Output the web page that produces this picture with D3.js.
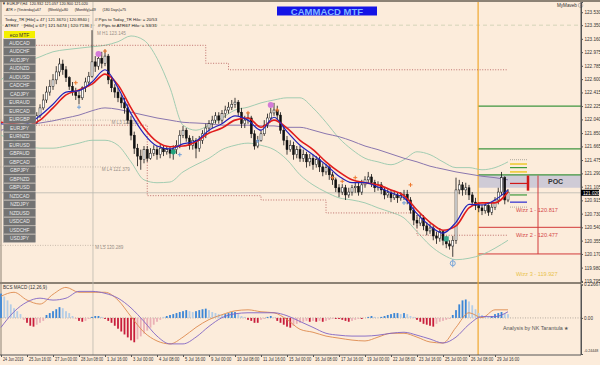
<!DOCTYPE html>
<html>
<head>
<meta charset="utf-8">
<script src="https://cdn.jsdelivr.net/npm/d3@7"></script>
<style>
  body { margin: 0; background: #fcecdb; }
  svg { display: block; font-family: "Liberation Sans", Arial, sans-serif; }
</style>
</head>
<body>
<svg id="chart" width="600" height="365"></svg>
<script>
// ---- candles (H4 EURJPY), bar numbers start at firstBar ----
var firstBar = 10;
var open = [
  121.96,122.00,122.09,122.20,122.31,122.42,122.50,122.59,122.70,122.81,
  122.73,122.62,122.50,122.42,122.37,122.34,122.48,122.56,122.64,122.84,
  122.78,122.89,122.82,122.92,122.59,122.48,122.42,122.34,122.27,122.20,
  122.03,121.82,121.64,121.53,121.48,121.62,121.50,121.57,121.62,121.55,
  121.64,121.59,121.62,121.57,121.62,121.68,121.82,121.89,121.78,121.68,
  121.75,121.64,121.75,121.84,121.92,121.98,122.03,122.09,122.03,122.12,
  122.17,122.21,122.25,122.28,122.14,121.98,122.03,122.06,121.84,121.67,
  121.75,121.84,121.96,122.06,122.13,122.17,122.10,121.89,121.75,121.62,
  121.68,121.55,121.62,121.50,121.55,121.45,121.50,121.41,121.48,121.38,
  121.31,121.37,121.27,121.20,121.09,121.03,121.09,120.99,121.03,121.09,
  121.11,121.03,121.13,121.20,121.24,121.16,121.09,121.13,121.06,120.99,
  121.02,120.95,120.99,120.95,120.98,121.00,120.92,120.78,120.64,120.60,
  120.67,120.56,120.49,120.53,120.42,120.39,120.48,120.36,120.31,120.28,
  120.36,121.06,121.13,121.06,121.09,120.99,120.89,120.84,120.81,120.77,
  120.84,120.75,120.82,120.92,121.03,121.23,120.92
];
var high = [
  122.06,122.14,122.25,122.39,122.50,122.59,122.67,122.78,122.89,122.87,
  122.78,122.64,122.56,122.48,122.45,122.50,122.62,122.70,123.28,122.92,
  122.95,122.98,123.01,122.95,122.64,122.53,122.48,122.39,122.34,122.25,
  122.09,121.87,121.70,121.62,121.67,121.67,121.64,121.68,121.67,121.70,
  121.68,121.67,121.66,121.68,121.75,121.89,121.95,121.92,121.82,121.81,
  121.78,121.81,121.89,121.98,122.03,122.09,122.14,122.14,122.17,122.23,
  122.28,122.31,122.34,122.31,122.20,122.09,122.14,122.09,121.89,121.81,
  121.89,122.03,122.12,122.20,122.27,122.23,122.14,121.95,121.81,121.75,
  121.73,121.67,121.67,121.62,121.59,121.56,121.55,121.53,121.52,121.43,
  121.42,121.41,121.31,121.23,121.14,121.14,121.13,121.09,121.13,121.17,
  121.16,121.20,121.25,121.31,121.28,121.20,121.18,121.17,121.10,121.07,
  121.06,121.05,121.03,121.03,121.06,121.06,120.96,120.82,120.71,120.73,
  120.71,120.61,120.59,120.57,120.48,120.53,120.50,120.42,120.36,120.42,
  121.23,121.20,121.17,121.16,121.13,121.03,120.95,120.89,120.86,120.88,
  120.86,120.88,120.96,121.09,121.31,121.25,121.07
];
var low = [
  121.92,121.98,122.06,122.17,122.27,122.37,122.45,122.53,122.64,122.66,
  122.56,122.45,122.37,122.31,122.25,122.31,122.42,122.50,122.62,122.70,
  122.73,122.75,122.78,122.53,122.42,122.34,122.28,122.20,122.12,121.98,
  121.75,121.56,121.39,121.34,121.43,121.45,121.48,121.53,121.48,121.50,
  121.53,121.55,121.50,121.48,121.56,121.64,121.78,121.73,121.62,121.62,
  121.50,121.59,121.70,121.78,121.87,121.92,121.98,121.98,121.98,122.06,
  122.12,122.17,122.20,122.09,121.92,121.92,121.98,121.78,121.62,121.64,
  121.73,121.81,121.92,122.03,122.09,122.03,121.84,121.68,121.55,121.59,
  121.48,121.50,121.45,121.45,121.37,121.39,121.34,121.37,121.31,121.25,
  121.27,121.20,121.13,121.03,120.96,120.99,120.92,120.95,120.98,121.02,
  120.98,120.99,121.09,121.14,121.10,121.03,121.05,121.00,120.93,120.95,
  120.89,120.92,120.88,120.91,120.92,120.86,120.73,120.57,120.53,120.56,
  120.50,120.43,120.45,120.36,120.31,120.34,120.29,120.25,120.23,120.13,
  120.31,121.00,120.98,120.99,120.92,120.84,120.78,120.75,120.71,120.73,
  120.70,120.71,120.78,120.86,120.99,120.86,120.89
];
var close = [
  122.00,122.09,122.20,122.31,122.42,122.50,122.59,122.70,122.81,122.73,
  122.62,122.50,122.42,122.37,122.34,122.48,122.56,122.64,122.84,122.78,
  122.89,122.82,122.92,122.59,122.48,122.42,122.34,122.27,122.20,122.03,
  121.82,121.64,121.53,121.48,121.62,121.50,121.57,121.62,121.55,121.64,
  121.59,121.62,121.57,121.62,121.68,121.82,121.89,121.78,121.68,121.75,
  121.64,121.75,121.84,121.92,121.98,122.03,122.09,122.03,122.12,122.17,
  122.21,122.25,122.28,122.14,121.98,122.03,122.06,121.84,121.67,121.75,
  121.84,121.96,122.06,122.13,122.17,122.10,121.89,121.75,121.62,121.68,
  121.55,121.62,121.50,121.55,121.45,121.50,121.41,121.48,121.38,121.31,
  121.37,121.27,121.20,121.09,121.03,121.09,120.99,121.03,121.09,121.11,
  121.03,121.13,121.20,121.24,121.16,121.09,121.13,121.06,120.99,121.02,
  120.95,120.99,120.95,120.98,121.00,120.92,120.78,120.64,120.60,120.67,
  120.56,120.49,120.53,120.42,120.39,120.48,120.36,120.31,120.28,120.36,
  121.06,121.13,121.06,121.09,120.99,120.89,120.84,120.81,120.77,120.84,
  120.75,120.82,120.92,121.03,121.23,120.92,121.03
];

// ---- indicator lines, read every 4th bar ----
var lineBars = [0,4,8,12,16,20,24,28,32,36,40,44,48,52,56,60,64,68,72,76,
                80,84,88,92,96,100,104,108,112,116,120,124,128,132,136,140,144,148,152,156];
var emaRed = [122.00,121.98,121.96,122.03,122.20,122.38,122.45,122.53,122.67,122.52,
              122.20,121.92,121.73,121.66,121.67,121.73,121.85,121.92,122.03,122.06,
              121.93,122.03,121.92,121.75,121.62,121.45,121.31,121.20,121.16,121.13,
              121.06,120.98,120.78,120.61,120.50,120.56,120.81,120.88,120.88,121.03];
var emaBlue = [121.98,121.96,121.98,122.09,122.25,122.42,122.44,122.56,122.73,122.48,
               122.12,121.84,121.67,121.63,121.70,121.74,121.89,121.98,122.09,122.03,
               121.89,122.07,121.87,121.68,121.55,121.41,121.25,121.16,121.16,121.10,
               121.02,120.95,120.73,120.56,120.46,120.61,120.86,120.85,120.92,121.06];
var maSlow = [121.89,121.93,121.96,121.99,122.02,122.06,122.10,122.16,122.20,122.18,
              122.14,122.10,122.06,122.03,122.00,121.99,121.98,121.96,121.96,121.96,
              121.95,121.95,121.93,121.93,121.89,121.84,121.80,121.74,121.67,121.62,
              121.56,121.50,121.45,121.39,121.35,121.31,121.28,121.25,121.23,121.20];
var bandUpper = [122.59,122.73,122.84,122.91,122.98,123.01,123.03,123.05,123.07,123.12,
                 123.20,123.14,122.89,122.48,121.96,121.89,121.96,122.06,122.17,122.21,
                 122.27,122.31,122.34,122.34,122.20,122.00,121.78,121.62,121.50,121.45,
                 121.41,121.48,121.59,121.55,121.45,121.37,121.37,121.34,121.37,121.45];
var bandLower = [121.82,121.75,121.68,121.64,121.64,121.67,121.71,121.75,121.75,121.68,
                 121.45,121.20,121.16,121.17,121.31,121.41,121.50,121.62,121.68,121.71,
                 121.68,121.62,121.48,121.27,121.13,121.03,120.95,120.92,120.88,120.81,
                 120.75,120.67,120.48,120.29,120.16,120.09,120.11,120.16,120.25,120.36];

// stepped dotted ranges
var stepUpBars = [10, 63, 70, 156];
var stepUpVals = [123.07, 122.82, 122.73, 122.73];
var stepLoBars = [10, 45, 80, 100, 128, 156];
var stepLoVals = [121.96, 120.98, 120.92, 120.74, 120.43, 120.43];

// signal marks
var pinkDots = [[30, 122.95], [83, 122.24]];
var greenDots = [[53, 121.59]];
var tealSquares = [[137, 120.38]];
var orangeCross = [[23, 122.55], [32, 122.99], [76, 122.13], [85, 122.17], [102, 121.23], [105, 121.18], [109, 121.23], [126, 121.13]];
var blueCross = [[24, 122.21], [55, 121.55], [79, 121.74], [124, 120.88]];
var bluePin = [[139, 120.04]];

// ---- MACD ----
var histo = [
  0.165,0.145,0.119,0.092,0.066,0.046,0.026,-0.013,-0.033,-0.053,
  -0.059,-0.046,-0.033,-0.020,0.020,0.033,0.046,0.059,0.073,0.066,
  0.046,0.033,0.013,-0.007,-0.020,-0.026,-0.020,-0.007,0.007,0.013,
  0.013,0.007,-0.007,-0.020,-0.033,-0.053,-0.073,-0.092,-0.112,-0.132,
  -0.152,-0.165,-0.145,-0.125,-0.106,-0.086,-0.066,-0.046,-0.026,-0.013,
  0.007,0.013,0.020,0.026,0.033,0.040,0.046,0.053,0.046,0.040,
  0.046,0.053,0.059,0.063,0.053,0.040,0.033,0.026,0.020,0.026,
  0.033,0.040,0.040,0.026,0.013,0.007,-0.013,-0.020,-0.033,-0.033,
  -0.013,-0.007,0.007,0.013,0.003,-0.020,-0.033,-0.046,-0.059,-0.066,
  -0.053,-0.040,-0.033,-0.026,-0.020,-0.026,-0.020,-0.026,-0.020,-0.026,
  -0.020,-0.013,-0.007,-0.007,-0.007,-0.013,-0.020,-0.026,-0.020,-0.013,
  -0.007,-0.007,0.000,0.007,0.013,0.007,0.003,0.007,0.013,0.020,
  0.026,0.033,0.033,0.026,0.033,0.026,0.013,0.007,-0.013,-0.026,
  -0.040,-0.046,-0.053,-0.059,-0.040,-0.026,-0.020,-0.013,-0.007,0.020,
  0.053,0.092,0.119,0.125,0.112,0.086,0.059,0.033,0.020,0.013,
  0.007,0.013,0.026,0.033,0.040,0.033,0.026
];
var macdMain = [0.147,0.174,0.121,0.094,0.160,0.207,0.174,0.174,0.174,0.121,
                0.009,-0.097,-0.156,-0.176,-0.130,-0.064,-0.011,0.022,0.048,0.055,
                0.042,0.035,-0.011,-0.077,-0.097,-0.123,-0.137,-0.150,-0.156,-0.130,
                -0.104,-0.104,-0.130,-0.163,-0.170,-0.064,0.035,0.002,0.055,0.055];
var macdSignal = [-0.064,0.042,0.108,0.134,0.121,0.134,0.180,0.180,0.167,0.134,
                  0.068,-0.024,-0.123,-0.176,-0.176,-0.130,-0.057,0.002,0.028,0.035,
                  0.035,0.035,0.015,-0.024,-0.064,-0.104,-0.117,-0.123,-0.123,-0.117,
                  -0.104,-0.097,-0.117,-0.143,-0.170,-0.130,-0.044,0.009,0.009,0.042];

// ---- axes ----
var priceTicks = [123.530,123.350,123.160,122.975,122.785,122.600,122.415,122.225,122.040,121.850,
                  121.665,121.475,121.290,121.105,120.915,120.730,120.540,120.355,120.170,119.980,119.795];
var timeBars = [0,8,16,24,32,40,48,56,64,72,80,88,96,104,112,120,128,136,144,152];
var timeLabels = ['24 Jun 2019','25 Jun 16:00','27 Jun 00:00','28 Jun 08:00','1 Jul 16:00','3 Jul 00:00',
                  '4 Jul 08:00','5 Jul 16:00','9 Jul 00:00','10 Jul 08:00','11 Jul 16:00','15 Jul 00:00',
                  '16 Jul 08:00','17 Jul 16:00','19 Jul 00:00','22 Jul 08:00','23 Jul 16:00','25 Jul 00:00',
                  '26 Jul 08:00','29 Jul 16:00'];
var macdTicks = [0.22667, 0, -0.24448];
var macdTickLabels = ['0.22667', '0.00', '-0.24448'];

// ---- levels on the right ----
var todayBar = 146.8;
var greenLevels = [122.225, 121.63, 121.27];
var redLevels = [120.54, 120.17];
var bidPrice = 121.02;
var pocTop = 121.27, pocBottom = 121.09;
var wizzNames = ['Wizz 1 - 120.817', 'Wizz 2 - 120.477', 'Wizz 3 - 119.927'];
var wizzLevels = [120.817, 120.477, 119.927];
var pivotShort = [[121.48, '#bdb5a8'], [121.42, '#e8c000'], [121.37, '#3c9a3c'], [121.31, '#e8c000'],
                  [121.15, '#d01818'], [120.99, '#3c9a3c'], [120.89, '#2a2ad0'], [120.82, '#bdb5a8']];
var monthLevels = [['M L3 122.030', 122.03, 34], ['M L4 121.379', 121.379, 31], ['M L5 120.289', 120.289, 29]];

var symbols = ['AUDCAD','AUDCHF','AUDJPY','AUDNZD','AUDUSD','CADCHF','CADJPY','EURAUD','EURCAD','EURGBP',
               'EURJPY','EURNZD','EURUSD','GBPAUD','GBPCAD','GBPJPY','GBPNZD','GBPUSD','NZDCAD','NZDJPY',
               'NZDUSD','USDCAD','USDCHF','USDJPY'];

var svg = d3.select('#chart');
var axisX = 581;

var x = d3.scaleLinear().domain([0, 156]).range([1, 508]);
var y = d3.scaleLinear().domain([119.78, 123.672]).range([282, 2]);
var ym = d3.scaleLinear().domain([-0.24448, 0.22667]).range([354, 284.5]);

svg.append('rect').attr('width', 600).attr('height', 365).attr('fill', '#fcecdb');

// frame
svg.append('rect').attr('x', 0).attr('y', 0).attr('width', 600).attr('height', 2).attr('fill', '#8c8275');
svg.append('line').attr('x1', 1).attr('x2', 1).attr('y1', 2).attr('y2', 355).attr('stroke', '#8c8275');
svg.append('line').attr('x1', 0).attr('x2', axisX).attr('y1', 283).attr('y2', 283)
  .attr('stroke', '#8c8275').attr('stroke-width', 2);

// background guide lines
svg.append('line').attr('x1', 0).attr('x2', axisX).attr('y1', y(123.35)).attr('y2', y(123.35))
  .attr('stroke', '#c9cfb0').attr('stroke-dasharray', '4,3').attr('stroke-width', 0.8);
svg.append('line').attr('x1', x(28.3)).attr('x2', x(28.3)).attr('y1', 2).attr('y2', 355)
  .attr('stroke', '#bdb8ae').attr('stroke-width', 0.8);
svg.append('line').attr('x1', 0).attr('x2', axisX).attr('y1', y(bidPrice)).attr('y2', y(bidPrice))
  .attr('stroke', '#b9b6b0').attr('stroke-width', 0.8);

monthLevels.forEach(function (m) {
  svg.append('line').attr('x1', 0).attr('x2', x(m[2] + 6)).attr('y1', y(m[1])).attr('y2', y(m[1]))
    .attr('stroke', '#a89c90').attr('stroke-dasharray', '1,1.5').attr('stroke-width', 0.6);
  svg.append('text').attr('x', x(m[2])).attr('y', y(m[1]) + 4).text(m[0])
    .attr('font-size', 4.6).attr('fill', '#9a9088');
});

// right side zone (after today's open)
var tx = x(todayBar);
svg.append('rect').attr('x', tx).attr('y', y(pocTop)).attr('width', axisX - tx).attr('height', y(pocBottom) - y(pocTop))
  .attr('fill', '#cfcbd6');
svg.append('text').attr('x', 548).attr('y', y(pocBottom) - 3.5).text('POC')
  .attr('font-size', 7).attr('font-weight', 'bold').attr('fill', '#333');
greenLevels.forEach(function (v) {
  svg.append('line').attr('x1', tx).attr('x2', axisX).attr('y1', y(v)).attr('y2', y(v))
    .attr('stroke', '#3f963f').attr('stroke-width', 1.2);
});
redLevels.forEach(function (v) {
  svg.append('line').attr('x1', tx).attr('x2', axisX).attr('y1', y(v)).attr('y2', y(v))
    .attr('stroke', '#d23a3a').attr('stroke-width', 1);
});
wizzNames.forEach(function (t, i) {
  svg.append('text').attr('x', 516).attr('y', y(wizzLevels[i]) + 5).text(t)
    .attr('font-size', 5.6).attr('fill', i < 2 ? '#d44848' : '#e9c24a');
});
pivotShort.forEach(function (p) {
  svg.append('line').attr('x1', 510).attr('x2', 527).attr('y1', y(p[0])).attr('y2', y(p[0]))
    .attr('stroke', p[1]).attr('stroke-width', 1.2)
    .attr('stroke-dasharray', p[1] === '#bdb5a8' ? '1,1' : null);
});
svg.append('line').attr('x1', 528).attr('x2', 528).attr('y1', y(121.26)).attr('y2', y(121.05))
  .attr('stroke', '#d01818').attr('stroke-width', 2.5);
svg.append('line').attr('x1', 538).attr('x2', 538).attr('y1', y(121.26)).attr('y2', y(120.17))
  .attr('stroke', '#d23a3a').attr('stroke-width', 1);
svg.append('line').attr('x1', tx).attr('x2', tx).attr('y1', 2).attr('y2', 355)
  .attr('stroke', '#f0a830').attr('stroke-width', 1.2);

// bands and slow average
var line = d3.line().x(function (d) { return x(d[0]); }).y(function (d) { return y(d[1]); }).curve(d3.curveMonotoneX);
function series(vals) { return lineBars.map(function (b, i) { return [b, vals[i]]; }); }
[bandUpper, bandLower].forEach(function (b) {
  svg.append('path').attr('d', line(series(b))).attr('fill', 'none').attr('stroke', '#97c8ad').attr('stroke-width', 0.9);
});
svg.append('path').attr('d', line(series(maSlow))).attr('fill', 'none').attr('stroke', '#8a76ae').attr('stroke-width', 1);

var stepLine = d3.line().x(function (d) { return x(d[0]); }).y(function (d) { return y(d[1]); }).curve(d3.curveStepAfter);
svg.append('path').attr('d', stepLine(stepUpBars.map(function (b, i) { return [b, stepUpVals[i]]; })))
  .attr('fill', 'none').attr('stroke', '#b05050').attr('stroke-dasharray', '1,1.6').attr('stroke-width', 0.8);
svg.append('path').attr('d', stepLine(stepLoBars.map(function (b, i) { return [b, stepLoVals[i]]; })))
  .attr('fill', 'none').attr('stroke', '#b05050').attr('stroke-dasharray', '1,1.6').attr('stroke-width', 0.8);

// candles
var bars = close.map(function (c, k) {
  return { i: firstBar + k, o: open[k], h: high[k], l: low[k], c: c };
});
var cg = svg.append('g');
cg.selectAll('line.wick').data(bars).enter().append('line')
  .attr('x1', function (d) { return x(d.i); }).attr('x2', function (d) { return x(d.i); })
  .attr('y1', function (d) { return y(d.h); }).attr('y2', function (d) { return y(d.l); })
  .attr('stroke', '#111').attr('stroke-width', 0.8);
cg.selectAll('rect').data(bars).enter().append('rect')
  .attr('x', function (d) { return x(d.i) - 1; }).attr('width', 2)
  .attr('y', function (d) { return y(Math.max(d.o, d.c)); })
  .attr('height', function (d) { return Math.max(0.8, Math.abs(y(d.o) - y(d.c))); })
  .attr('fill', function (d) { return d.c >= d.o ? '#fff' : '#111'; })
  .attr('stroke', '#111').attr('stroke-width', 0.5);

// fast averages on top
svg.append('path').attr('d', line(series(emaRed))).attr('fill', 'none').attr('stroke', '#e01c1c').attr('stroke-width', 1.6);
svg.append('path').attr('d', line(series(emaBlue))).attr('fill', 'none').attr('stroke', '#2323b8').attr('stroke-width', 1.2);

// marks
function cross(list, color) {
  list.forEach(function (p) {
    var cx = x(p[0]), cy = y(p[1]);
    svg.append('path').attr('d', 'M' + (cx - 2) + ',' + cy + 'h4M' + cx + ',' + (cy - 2) + 'v4')
      .attr('stroke', color).attr('stroke-width', 1);
  });
}
cross(orangeCross, '#ee7a30');
cross(blueCross, '#6f9fd8');
pinkDots.forEach(function (p) {
  svg.append('circle').attr('cx', x(p[0])).attr('cy', y(p[1])).attr('r', 3).attr('fill', '#d47ad8');
});
greenDots.forEach(function (p) {
  svg.append('circle').attr('cx', x(p[0])).attr('cy', y(p[1])).attr('r', 2.6).attr('fill', '#25a37e');
});
tealSquares.forEach(function (p) {
  svg.append('rect').attr('x', x(p[0]) - 2.5).attr('y', y(p[1]) - 2.5).attr('width', 5).attr('height', 5).attr('fill', '#3aa88e');
});
bluePin.forEach(function (p) {
  svg.append('circle').attr('cx', x(p[0])).attr('cy', y(p[1])).attr('r', 2.5).attr('fill', 'none').attr('stroke', '#7aa6d8');
  svg.append('line').attr('x1', x(p[0])).attr('x2', x(p[0])).attr('y1', y(p[1]) - 4).attr('y2', y(p[1]) + 4).attr('stroke', '#7aa6d8');
});

// ---- MACD panel ----
svg.append('line').attr('x1', 0).attr('x2', axisX).attr('y1', ym(0)).attr('y2', ym(0))
  .attr('stroke', '#9a9088').attr('stroke-dasharray', '1,1.5').attr('stroke-width', 0.7);
svg.selectAll('rect.h').data(histo).enter().append('rect')
  .attr('x', function (d, i) { return x(i) - 0.9; }).attr('width', 1.8)
  .attr('y', function (d) { return ym(Math.max(0, d)); })
  .attr('height', function (d) { return Math.abs(ym(d) - ym(0)); })
  .attr('fill', function (d, i) {
    var rising = i === 0 || Math.abs(d) >= Math.abs(histo[i - 1]);
    if (d >= 0) return rising ? '#3a86d6' : '#b3cde6';
    return rising ? '#c81e3c' : '#eab0b6';
  });
var mline = d3.line().x(function (d) { return x(d[0]); }).y(function (d) { return ym(d[1]); }).curve(d3.curveMonotoneX);
svg.append('path').attr('d', mline(series(macdMain))).attr('fill', 'none').attr('stroke', '#de8a4e').attr('stroke-width', 0.9);
svg.append('path').attr('d', mline(series(macdSignal))).attr('fill', 'none').attr('stroke', '#8064c4').attr('stroke-width', 0.9);
svg.append('text').attr('x', 3).attr('y', 289).text('BCS MACD (12,26,9)').attr('font-size', 4.6).attr('fill', '#333');
svg.append('text').attr('x', 503).attr('y', 330).text('Analysis by NK Tarantula \u2605').attr('font-size', 5.4).attr('fill', '#555');

// ---- axes ----
var ay = svg.append('g').attr('transform', 'translate(' + axisX + ',0)')
  .call(d3.axisRight(y).tickValues(priceTicks).tickFormat(d3.format('.3f')).tickSize(2).tickPadding(1.5));
var am = svg.append('g').attr('transform', 'translate(' + axisX + ',0)')
  .call(d3.axisRight(ym).tickValues(macdTicks).tickFormat(function (d, i) { return macdTickLabels[i]; }).tickSize(2).tickPadding(1));
var at = svg.append('g').attr('transform', 'translate(0,355)')
  .call(d3.axisBottom(x).tickValues(timeBars).tickFormat(function (d, i) { return timeLabels[i]; }).tickSize(2).tickPadding(1));
[ay, am, at].forEach(function (g) {
  g.selectAll('text').attr('font-size', 4.6).attr('fill', '#333').attr('font-family', '"Liberation Sans", Arial, sans-serif');
  g.selectAll('line').attr('stroke', '#555');
  g.select('.domain').attr('stroke', '#555');
});
am.selectAll('.tick text').attr('dy', function (d) { return d < 0 ? '-0.75em' : '0.32em'; })
  .attr('font-size', function (d) { return d < 0 ? 3.6 : 4.6; });
at.select('.domain').remove();
at.selectAll('text').attr('text-anchor', 'start').attr('x', 1.5)
  .attr('textLength', function (d, i) { return timeLabels[i].length * 1.85; })
  .attr('lengthAdjust', 'spacingAndGlyphs');
svg.append('line').attr('x1', 0).attr('x2', axisX).attr('y1', 355).attr('y2', 355).attr('stroke', '#555');
svg.append('line').attr('x1', axisX).attr('x2', axisX).attr('y1', 2).attr('y2', 355).attr('stroke', '#555');

// bid price box
svg.append('rect').attr('x', axisX).attr('y', y(bidPrice) - 3).attr('width', 18).attr('height', 6).attr('fill', '#000');
svg.append('text').attr('x', axisX + 2).attr('y', y(bidPrice) + 1.8).text(bidPrice.toFixed(3))
  .attr('font-size', 4.6).attr('fill', '#fff');

// ---- symbol buttons ----
var btn = svg.append('g');
btn.append('rect').attr('x', 4).attr('y', 31).attr('width', 31).attr('height', 7).attr('fill', '#f4f000');
btn.append('text').attr('x', 19.5).attr('y', 36.5).attr('text-anchor', 'middle').text('eco MTF')
  .attr('font-size', 5).attr('fill', '#333');
symbols.forEach(function (s, i) {
  btn.append('rect').attr('x', 3.5).attr('y', 39 + i * 8.5).attr('width', 32).attr('height', 7.8)
    .attr('fill', '#737373').attr('stroke', '#9a9a9a').attr('stroke-width', 0.4);
  btn.append('text').attr('x', 19.5).attr('y', 44.7 + i * 8.5).attr('text-anchor', 'middle').text(s)
    .attr('font-size', 4.8).attr('fill', '#ececec');
});

// ---- header ----
var head = [
  ['\u25bc EURJPY,H4  120.932 121.057 120.900 121.020', 2, 4.5, 86],
  ['ATR > (Yesterday)=67       (Weekly)=80       (Monthly)=49       (180 Days)=75', 6, 10.5, 120],
  ['---------------------------------------------------------------------------------------', 4, 16, 86],
  ['Today_TR [Hilo] = 47 | 121.3670 | 120.8940 |     // Pips to Today_TR Hilo: = 20/53', 5, 21, 152],
  ['ATR67    [Hilo] = 67 | 121.5474 | 120.7136 |     // Pips to ATR67 Hilo: = 53/31', 5, 26.5, 152]
];
head.forEach(function (h) {
  svg.append('text').attr('x', h[1]).attr('y', h[2]).text(h[0]).attr('font-size', 4.4).attr('fill', '#222')
    .attr('textLength', h[3]).attr('lengthAdjust', 'spacingAndGlyphs').style('white-space', 'pre');
});
svg.append('text').attr('x', 97).attr('y', 35).text('M H1 123.145').attr('font-size', 4.6).attr('fill', '#9a9088');

svg.append('rect').attr('x', 277).attr('y', 6.5).attr('width', 100).attr('height', 9).attr('fill', '#1414e6');
svg.append('text').attr('x', 327).attr('y', 14.6).attr('text-anchor', 'middle').text('CAMMACD MTF')
  .attr('font-size', 9.5).attr('font-weight', 'bold').attr('fill', '#7fb6ff');
svg.append('text').attr('x', 557).attr('y', 7).text('MyMaveb \u24d8').attr('font-size', 4.6).attr('fill', '#333');
</script>
</body>
</html>
